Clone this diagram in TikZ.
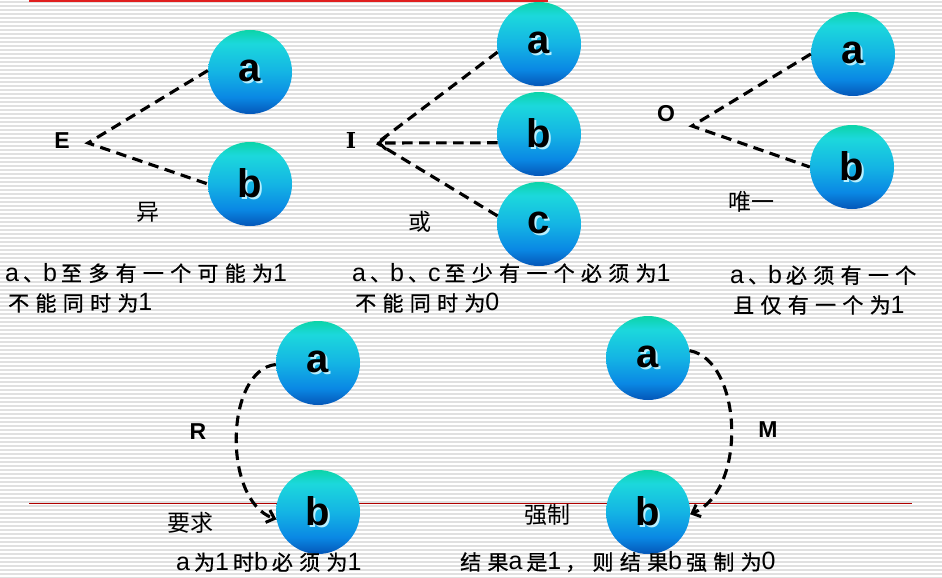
\documentclass[tikz,border=0pt]{standalone}
\usepackage{fontspec}
\setmainfont{Liberation Sans}
\newfontfamily\cjk{Noto Sans CJK SC}
\newfontfamily\cjksp[LetterSpace=30,FakeBold=0.8]{Noto Sans CJK SC}
\newfontfamily\latd{Liberation Sans}
\newfontfamily\serifb{DejaVu Serif}
\usetikzlibrary{arrows.meta}
\definecolor{stripec}{HTML}{E0E0E0}
\definecolor{topred}{HTML}{E02020}
\definecolor{botred}{HTML}{B00000}
\definecolor{btop}{HTML}{0CD4A8}
\definecolor{bcy}{HTML}{1CD8DC}
\definecolor{bmid}{HTML}{14B4E4}
\definecolor{blo}{HTML}{0A88E4}
\definecolor{bbot}{HTML}{0456B8}
\definecolor{shadc}{HTML}{B8F0FF}
\pgfdeclareverticalshading{ballshade}{100bp}{color(0bp)=(bbot); color(25bp)=(bbot); color(35bp)=(blo); color(50bp)=(bmid); color(67bp)=(bcy); color(75bp)=(btop); color(100bp)=(btop)}
\newcommand\shtxt[1]{\makebox[0pt][l]{\hspace{1.6pt}\raisebox{-1.6pt}{\textcolor{shadc}{#1}}}#1}
\newcommand\dun{、\kern-1pt}
\newcommand\lt[1]{{\latd\fontsize{25}{25}\selectfont #1}\kern4pt}
\begin{document}
\begin{tikzpicture}[x=1pt,y=-1pt,
  ball/.style={circle,minimum size=84pt,inner sep=0pt,shading=ballshade,font=\fontsize{40}{40}\selectfont\bfseries},
  rel/.style={font=\fontsize{23}{23}\selectfont\bfseries,inner sep=0pt},
  cn/.style={font=\cjk\fontsize{23}{23}\selectfont,inner sep=0pt},
  desc/.style={font=\cjksp\fontsize{21}{21}\selectfont,inner sep=0pt,anchor=west},
  dsh/.style={line width=3.1pt,dash pattern=on 10.5pt off 6.5pt},
  tip/.style={-{Straight Barb[length=7pt,width=13pt,line width=3pt]}}
]
\useasboundingbox (0,0) rectangle (942,578);
\fill[white] (0,0) rectangle (942,578);
\foreach \yy in {1,5,...,577} \fill[stripec] (0,\yy) rectangle (942,\yy+1.6);
\fill[topred] (28.7,0) rectangle (548,1.8);
\fill[botred] (28.7,502.5) rectangle (912,503.8);

% E group
\node[ball] (Ea) at (250,72) {\shtxt{a}};
\node[ball] (Eb) at (250,184) {\shtxt{b}};
\node[rel] (E) at (62,141) {E};
\coordinate (Ev) at (88,143);
\draw[dsh] (Ea.178) -- (Ev) -- (Eb.west);
\node[cn] (yi) at (148,212) {异};
\node[desc] (d1) at (5,273) {\lt{a}\dun\lt{b}至多有一个可能为\lt{1}};
\node[desc] (d2) at (8,303) {不能同时为\lt{1}};

% I group
\node[ball] (Ia) at (539,44) {\shtxt{a}};
\node[ball] (Ib) at (539,134) {\shtxt{b}};
\node[ball] (Ic) at (539,224) {\shtxt{c}};
\node[rel,font=\serifb\fontsize{22}{22}\selectfont\bfseries] (I) at (351,140) {I};
\coordinate (Iv) at (377,143);
\draw[dsh] (Ia.191) -- (Iv);
\draw[dsh] (Ic.169) -- (Iv);
\draw[dsh,tip] (Ib.192) -- (Iv);
\node[cn] (huo) at (420,222) {或};
\node[desc] (d3) at (352,273) {\lt{a}\dun\lt{b}\dun\lt{c}至少有一个必须为\lt{1}};
\node[desc] (d4) at (355,303) {不能同时为\lt{0}};

% O group
\node[ball] (Oa) at (853,54) {\shtxt{a}};
\node[ball] (Ob) at (852,167) {\shtxt{b}};
\node[rel] (O) at (666,114) {O};
\coordinate (Ov) at (692,126);
\draw[dsh] (Oa.west) -- (Ov) -- (Ob.west);
\node[cn] (wei) at (751,202) {唯一};
\node[desc] (d5) at (730,275) {\lt{a}\dun\lt{b}必须有一个};
\node[desc] (d6) at (733,305) {且仅有一个为\lt{1}};

% R group
\node[ball] (Ra) at (318,363) {\shtxt{a}};
\node[ball] (Rb) at (318,512) {\shtxt{b}};
\node[rel] (R) at (198,432) {R};
\draw[dsh,tip] (Ra.182) .. controls (225,370) and (222,500) .. (Rb.190);
\node[cn] (yq) at (190,523) {要求};
\node[desc] (d7) at (176,562) {\lt{a}为\lt{1}时\lt{b}必须为\lt{1}};

% M group
\node[ball] (Ma) at (648,358) {\shtxt{a}};
\node[ball] (Mb) at (648,512) {\shtxt{b}};
\node[rel] (M) at (768,430) {M};
\draw[dsh,tip] (Ma.10) .. controls (742,360) and (748,490) .. (Mb.357);
\node[cn] (qz) at (547,515) {强制};
\node[desc] (d8) at (460,562) {结果\lt{a}是\lt{1}，则结果\lt{b}强制为\lt{0}};
\end{tikzpicture}
\end{document}
